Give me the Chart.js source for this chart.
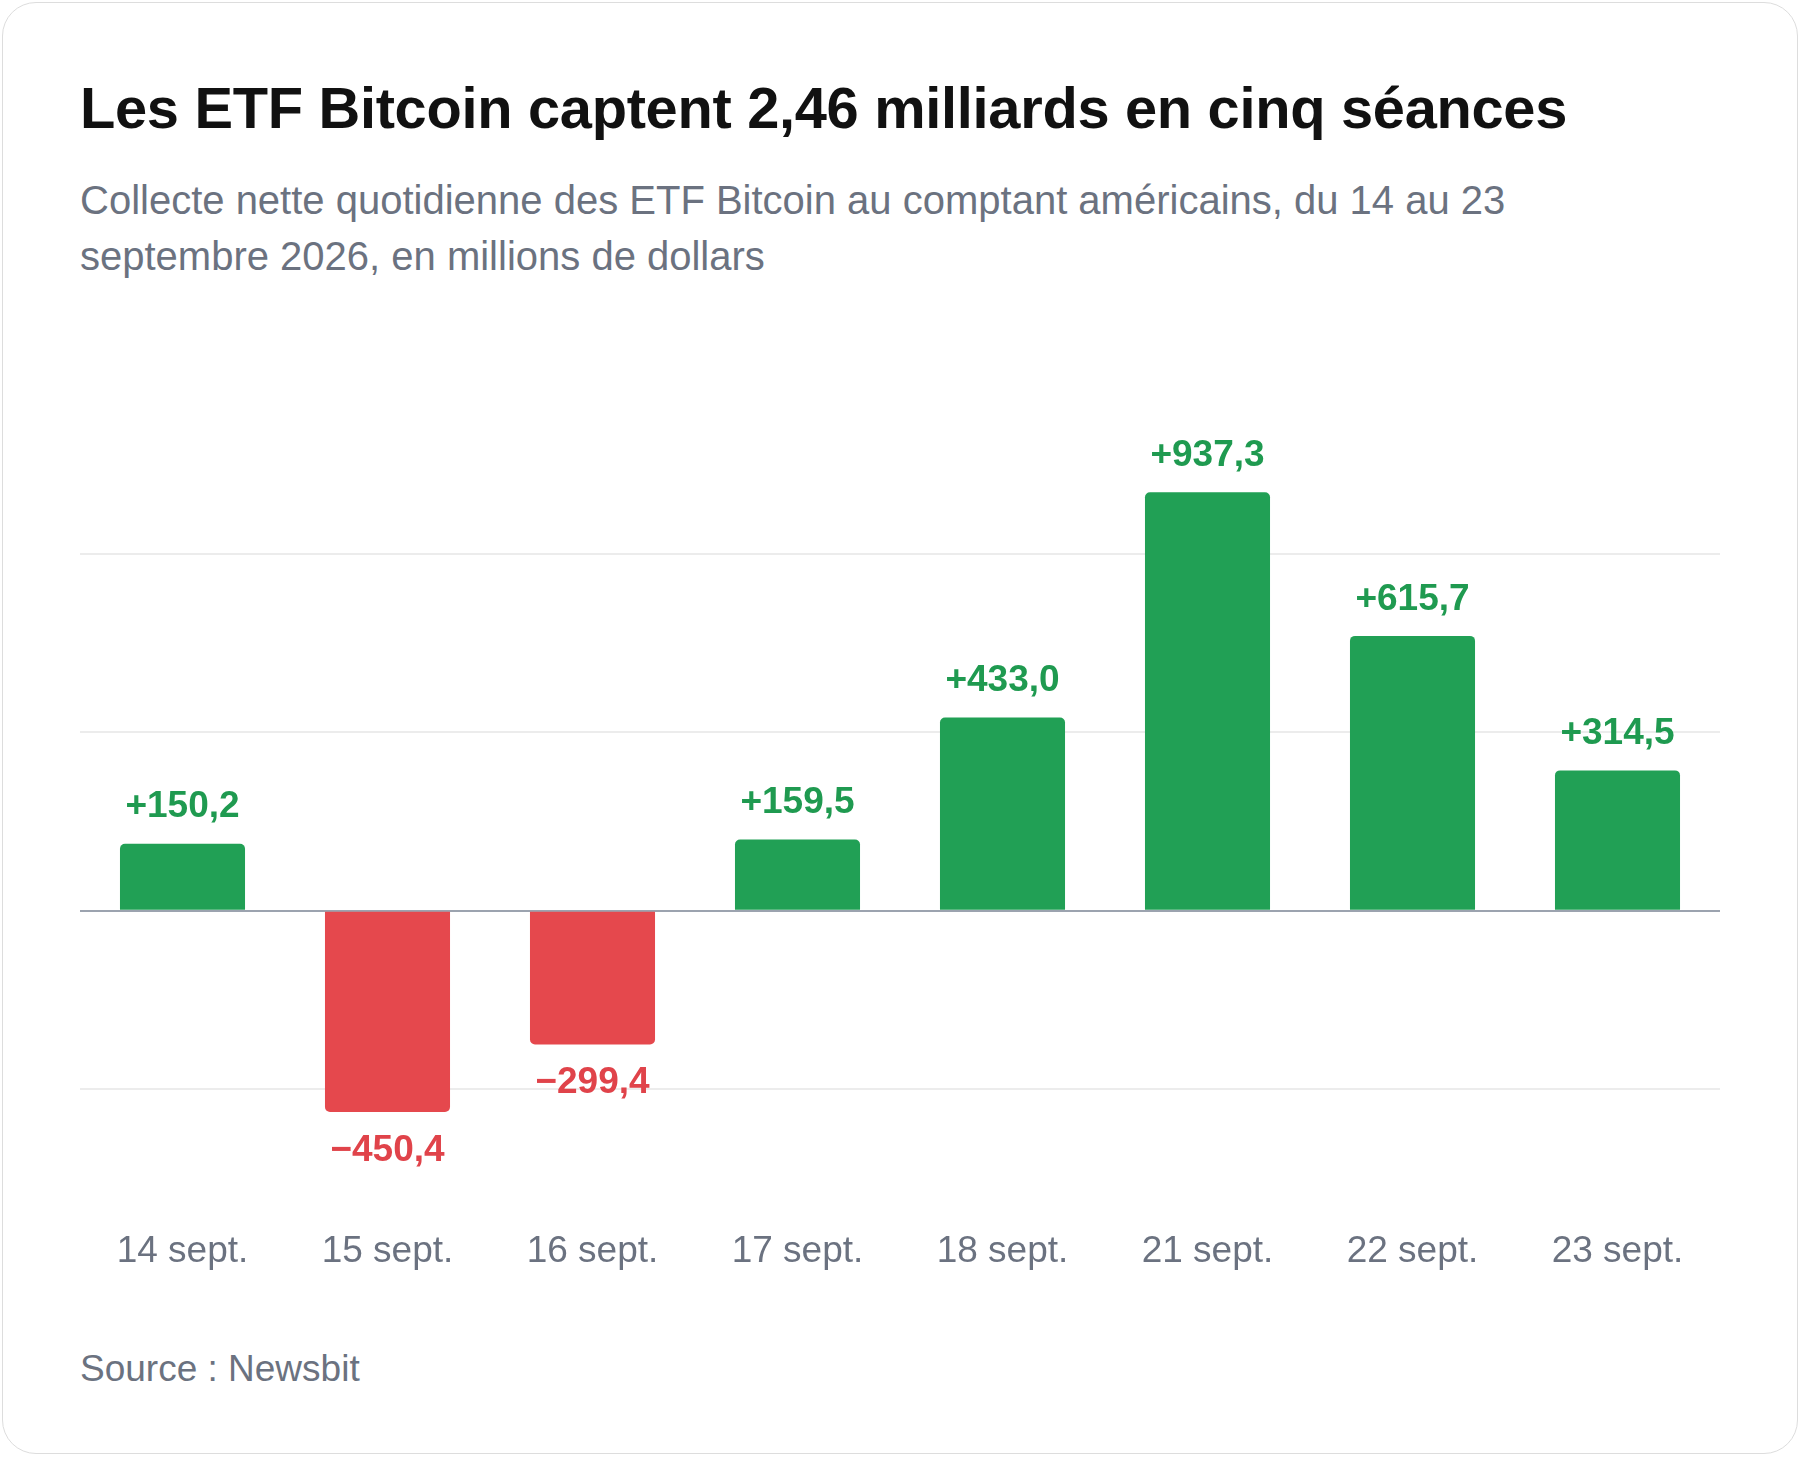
<!DOCTYPE html>
<html><head><meta charset="utf-8">
<script src="https://cdn.jsdelivr.net/npm/chart.js@4"></script>
<style>
body{margin:0;width:1800px;height:1458px;background:#fff;font-family:"Liberation Sans",Arial,sans-serif;}
.card{position:absolute;left:2px;top:2px;width:1794px;height:1450px;border:1px solid #ddd;border-radius:34px;}
h1{position:absolute;left:80px;top:80px;margin:0;font-size:57.8px;line-height:1;font-weight:700;color:#111;letter-spacing:-0.3px;white-space:nowrap}
.sub{position:absolute;left:80px;top:172px;width:1560px;font-size:40px;line-height:56px;color:#6b7280;}
.src{position:absolute;left:80px;top:1348px;font-size:37px;color:#6b7280;}
.wrap{position:absolute;left:80px;top:344px;width:1640px;height:972px;}
</style></head><body>
<div class="card"></div>
<h1>Les ETF Bitcoin captent 2,46 milliards en cinq séances</h1>
<div class="sub">Collecte nette quotidienne des ETF Bitcoin au comptant américains, du 14 au 23 septembre 2026, en millions de dollars</div>
<div class="wrap"><canvas id="c"></canvas></div>
<div class="src">Source : Newsbit</div>
<script>
const days = ["14 sept.","15 sept.","16 sept.","17 sept.","18 sept.","21 sept.","22 sept.","23 sept."];
const flows = [150.2,-450.4,-299.4,159.5,433.0,937.3,615.7,314.5];
const GREEN = "#21a055", RED = "#e5484d";
const fmt = v => (v>=0?"+":"\u2212") + Math.abs(v).toFixed(1).replace(".", ",");

const labelsPlugin = {
  id:"vals",
  afterDatasetsDraw(chart){
    const ctx = chart.ctx, meta = chart.getDatasetMeta(0);
    ctx.save();
    ctx.font = "bold 37px 'Liberation Sans', Arial, sans-serif";
    ctx.textAlign = "center";
    meta.data.forEach((bar,i)=>{
      const v = flows[i];
      ctx.fillStyle = v>=0 ? "#1f9a50" : "#e0434a";
      if(v>=0){ctx.textBaseline="bottom"; ctx.fillText(fmt(v), bar.x, bar.y-18);}
      else{ctx.textBaseline="top"; ctx.fillText(fmt(v), bar.x, bar.y+20);}
    });
    ctx.restore();
  }
};

new Chart(document.getElementById("c"), {
  type:"bar",
  data:{labels:days, datasets:[{data:flows,
    backgroundColor:flows.map(v=>v>=0?GREEN:RED),
    borderRadius:5, borderSkipped:"start",
    barPercentage:0.61, categoryPercentage:1}]},
  options:{
    responsive:true, maintainAspectRatio:false, animation:false,
    layout:{padding:{top:31,bottom:17,left:0,right:0}},
    plugins:{legend:{display:false}, tooltip:{enabled:false}},
    scales:{
      x:{grid:{display:false}, border:{display:false},
        ticks:{color:"#6b7280", padding:25, font:{size:37, family:"'Liberation Sans', Arial, sans-serif"}}},
      y:{min:-640, max:1200, display:true, border:{display:false},
        afterBuildTicks(s){ s.ticks=[-400,0,400,800].map(v=>({value:v})); },
        ticks:{display:false},
        grid:{drawTicks:false, lineWidth:2,
          color:c=>c.tick&&c.tick.value===0?"#9ca3af":"#ececec"}}
    }
  },
  plugins:[labelsPlugin]
});
</script>
</body></html>
